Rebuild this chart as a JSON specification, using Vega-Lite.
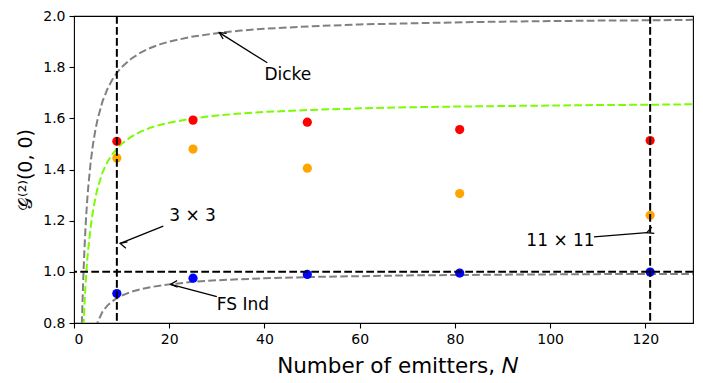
{
  "$schema": "https://vega.github.io/schema/vega-lite/v6.json",
  "width": 619,
  "height": 307,
  "autosize": {"type": "none"},
  "padding": {"left": 74, "top": 16, "right": 10, "bottom": 60},
  "background": "white",
  "config": {
    "font": "DejaVu Sans",
    "view": {"stroke": "black", "strokeWidth": 1.1},
    "axis": {
      "grid": false, "domain": false, "tickColor": "black", "tickSize": 5, "tickWidth": 1.1,
      "labelColor": "black", "labelFontSize": 14, "labelPadding": 4, "titleColor": "black",
      "titleFontWeight": "normal", "titleFontSize": 20
    }
  },
  "datasets": {
    "curves": [
      {"N": 1.5, "model": "Dicke", "g2": 0.667},
      {"N": 1.6, "model": "Dicke", "g2": 0.75},
      {"N": 1.7, "model": "Dicke", "g2": 0.824},
      {"N": 1.8, "model": "Dicke", "g2": 0.889},
      {"N": 1.9, "model": "Dicke", "g2": 0.947},
      {"N": 2, "model": "Dicke", "g2": 1.0},
      {"N": 2.2, "model": "Dicke", "g2": 1.091},
      {"N": 2.4, "model": "Dicke", "g2": 1.167},
      {"N": 2.6, "model": "Dicke", "g2": 1.231},
      {"N": 2.8, "model": "Dicke", "g2": 1.286},
      {"N": 3, "model": "Dicke", "g2": 1.333},
      {"N": 3.5, "model": "Dicke", "g2": 1.429},
      {"N": 4, "model": "Dicke", "g2": 1.5},
      {"N": 4.5, "model": "Dicke", "g2": 1.556},
      {"N": 5, "model": "Dicke", "g2": 1.6},
      {"N": 6, "model": "Dicke", "g2": 1.667},
      {"N": 7, "model": "Dicke", "g2": 1.714},
      {"N": 8, "model": "Dicke", "g2": 1.75},
      {"N": 9, "model": "Dicke", "g2": 1.778},
      {"N": 10, "model": "Dicke", "g2": 1.8},
      {"N": 12, "model": "Dicke", "g2": 1.833},
      {"N": 14, "model": "Dicke", "g2": 1.857},
      {"N": 16, "model": "Dicke", "g2": 1.875},
      {"N": 18, "model": "Dicke", "g2": 1.889},
      {"N": 20, "model": "Dicke", "g2": 1.9},
      {"N": 25, "model": "Dicke", "g2": 1.92},
      {"N": 30, "model": "Dicke", "g2": 1.933},
      {"N": 35, "model": "Dicke", "g2": 1.943},
      {"N": 40, "model": "Dicke", "g2": 1.95},
      {"N": 50, "model": "Dicke", "g2": 1.96},
      {"N": 60, "model": "Dicke", "g2": 1.967},
      {"N": 70, "model": "Dicke", "g2": 1.971},
      {"N": 80, "model": "Dicke", "g2": 1.975},
      {"N": 90, "model": "Dicke", "g2": 1.978},
      {"N": 100, "model": "Dicke", "g2": 1.98},
      {"N": 110, "model": "Dicke", "g2": 1.982},
      {"N": 120, "model": "Dicke", "g2": 1.983},
      {"N": 130, "model": "Dicke", "g2": 1.985},
      {"N": 1.8, "model": "Mid", "g2": 0.70},
      {"N": 1.9, "model": "Mid", "g2": 0.74},
      {"N": 2, "model": "Mid", "g2": 0.78},
      {"N": 2.2, "model": "Mid", "g2": 0.87},
      {"N": 2.4, "model": "Mid", "g2": 0.94},
      {"N": 2.6, "model": "Mid", "g2": 1.0},
      {"N": 2.8, "model": "Mid", "g2": 1.05},
      {"N": 3, "model": "Mid", "g2": 1.09},
      {"N": 3.5, "model": "Mid", "g2": 1.175},
      {"N": 4, "model": "Mid", "g2": 1.24},
      {"N": 4.5, "model": "Mid", "g2": 1.29},
      {"N": 5, "model": "Mid", "g2": 1.33},
      {"N": 6, "model": "Mid", "g2": 1.389},
      {"N": 7, "model": "Mid", "g2": 1.429},
      {"N": 8, "model": "Mid", "g2": 1.458},
      {"N": 9, "model": "Mid", "g2": 1.481},
      {"N": 10, "model": "Mid", "g2": 1.5},
      {"N": 12, "model": "Mid", "g2": 1.528},
      {"N": 14, "model": "Mid", "g2": 1.548},
      {"N": 16, "model": "Mid", "g2": 1.563},
      {"N": 18, "model": "Mid", "g2": 1.574},
      {"N": 20, "model": "Mid", "g2": 1.583},
      {"N": 25, "model": "Mid", "g2": 1.6},
      {"N": 30, "model": "Mid", "g2": 1.611},
      {"N": 35, "model": "Mid", "g2": 1.619},
      {"N": 40, "model": "Mid", "g2": 1.625},
      {"N": 50, "model": "Mid", "g2": 1.633},
      {"N": 60, "model": "Mid", "g2": 1.639},
      {"N": 70, "model": "Mid", "g2": 1.643},
      {"N": 80, "model": "Mid", "g2": 1.646},
      {"N": 90, "model": "Mid", "g2": 1.648},
      {"N": 100, "model": "Mid", "g2": 1.65},
      {"N": 110, "model": "Mid", "g2": 1.652},
      {"N": 120, "model": "Mid", "g2": 1.653},
      {"N": 130, "model": "Mid", "g2": 1.655},
      {"N": 4.5, "model": "FS Ind", "g2": 0.778},
      {"N": 5, "model": "FS Ind", "g2": 0.805},
      {"N": 6, "model": "FS Ind", "g2": 0.845},
      {"N": 7, "model": "FS Ind", "g2": 0.868},
      {"N": 8, "model": "FS Ind", "g2": 0.884},
      {"N": 9, "model": "FS Ind", "g2": 0.897},
      {"N": 10, "model": "FS Ind", "g2": 0.907},
      {"N": 12, "model": "FS Ind", "g2": 0.922},
      {"N": 14, "model": "FS Ind", "g2": 0.932},
      {"N": 16, "model": "FS Ind", "g2": 0.94},
      {"N": 18, "model": "FS Ind", "g2": 0.946},
      {"N": 20, "model": "FS Ind", "g2": 0.951},
      {"N": 25, "model": "FS Ind", "g2": 0.961},
      {"N": 30, "model": "FS Ind", "g2": 0.967},
      {"N": 35, "model": "FS Ind", "g2": 0.971},
      {"N": 40, "model": "FS Ind", "g2": 0.975},
      {"N": 50, "model": "FS Ind", "g2": 0.98},
      {"N": 60, "model": "FS Ind", "g2": 0.983},
      {"N": 70, "model": "FS Ind", "g2": 0.986},
      {"N": 80, "model": "FS Ind", "g2": 0.9875},
      {"N": 90, "model": "FS Ind", "g2": 0.989},
      {"N": 100, "model": "FS Ind", "g2": 0.99},
      {"N": 110, "model": "FS Ind", "g2": 0.991},
      {"N": 120, "model": "FS Ind", "g2": 0.992},
      {"N": 130, "model": "FS Ind", "g2": 0.992}
    ],
    "points": [
      {"N": 9, "series": "red", "g2": 1.51},
      {"N": 25, "series": "red", "g2": 1.593},
      {"N": 49, "series": "red", "g2": 1.585},
      {"N": 81, "series": "red", "g2": 1.556},
      {"N": 121, "series": "red", "g2": 1.513},
      {"N": 9, "series": "orange", "g2": 1.445},
      {"N": 25, "series": "orange", "g2": 1.48},
      {"N": 49, "series": "orange", "g2": 1.405},
      {"N": 81, "series": "orange", "g2": 1.306},
      {"N": 121, "series": "orange", "g2": 1.221},
      {"N": 9, "series": "blue", "g2": 0.915},
      {"N": 25, "series": "blue", "g2": 0.975},
      {"N": 49, "series": "blue", "g2": 0.99},
      {"N": 81, "series": "blue", "g2": 0.995},
      {"N": 121, "series": "blue", "g2": 0.999}
    ],
    "vlines": [{"N": 9}, {"N": 121}],
    "hlines": [{"g2": 1.0}],
    "notes": [
      {"label": "Dicke", "tx": 40, "ty": 1.75, "sx": 40.6, "sy": 1.817, "hx": 30.5, "hy": 1.935},
      {"label": "3 × 3", "tx": 20, "ty": 1.2, "sx": 18.75, "sy": 1.179, "hx": 9.7, "hy": 1.111},
      {"label": "FS Ind", "tx": 30, "ty": 0.85, "sx": 30, "sy": 0.903, "hx": 20.3, "hy": 0.951},
      {"label": "11 × 11", "tx": 95, "ty": 1.1, "sx": 109.2, "sy": 1.137, "hx": 120.3, "hy": 1.153}
    ]
  },
  "layer": [
    {
      "data": {"name": "curves"},
      "mark": {"type": "line", "clip": true, "strokeWidth": 2, "strokeDash": [7.7, 3.3]},
      "encoding": {
        "x": {"field": "N", "type": "quantitative", "scale": {"domain": [0, 130], "nice": false, "zero": false},
              "axis": {"values": [0, 20, 40, 60, 80, 100, 120], "title": "Number of emitters, 𝑁", "titlePadding": 9, "titleFontSize": 21.5, "titleX": 323, "titleAlign": "center"}},
        "y": {"field": "g2", "type": "quantitative", "scale": {"domain": [0.8, 2.0], "nice": false, "zero": false},
              "axis": {"values": [0.8, 1.0, 1.2, 1.4, 1.6, 1.8, 2.0], "format": ".1f", "title": "𝒢⁽²⁾(0, 0)", "titlePadding": 7, "titleFontSize": 19}},
        "color": {"field": "model", "type": "nominal", "scale": {"domain": ["Dicke", "Mid", "FS Ind"], "range": ["#808080", "#7CFC00", "#808080"]}, "legend": null},
        "detail": {"field": "model"},
        "order": {"field": "N", "type": "quantitative"}
      }
    },
    {
      "data": {"name": "points"},
      "mark": {"type": "point", "filled": true, "opacity": 1, "size": 85, "clip": true},
      "encoding": {
        "x": {"field": "N", "type": "quantitative"},
        "y": {"field": "g2", "type": "quantitative"},
        "fill": {"field": "series", "type": "nominal", "scale": {"domain": ["red", "orange", "blue"], "range": ["#FF0000", "#FFA500", "#0000FF"]}, "legend": null}
      }
    },
    {
      "data": {"name": "vlines"},
      "mark": {"type": "rule", "color": "black", "strokeWidth": 2, "strokeDash": [7.7, 3.3]},
      "encoding": {"x": {"field": "N", "type": "quantitative"}}
    },
    {
      "data": {"name": "hlines"},
      "mark": {"type": "rule", "color": "black", "strokeWidth": 2, "strokeDash": [7.7, 3.3]},
      "encoding": {"y": {"field": "g2", "type": "quantitative"}}
    },
    {
      "data": {"name": "notes"},
      "mark": {"type": "rule", "color": "black", "strokeWidth": 1.3},
      "encoding": {
        "x": {"field": "sx", "type": "quantitative"},
        "y": {"field": "sy", "type": "quantitative"},
        "x2": {"field": "hx"},
        "y2": {"field": "hy"}
      }
    },
    {
      "data": {"name": "notes"},
      "mark": {"type": "point", "shape": "M-1,-0.5L0,0L-1,0.5", "filled": false, "stroke": "black", "strokeWidth": 1.3, "size": 180, "opacity": 1},
      "encoding": {
        "x": {"field": "hx", "type": "quantitative"},
        "y": {"field": "hy", "type": "quantitative"},
        "angle": {"field": "label", "type": "nominal", "scale": {"domain": ["Dicke", "3 × 3", "FS Ind", "11 × 11"], "range": [212, 158, 196, 356]}, "legend": null}
      }
    },
    {
      "data": {"name": "notes"},
      "mark": {"type": "text", "align": "left", "baseline": "alphabetic", "fontSize": 17, "color": "black"},
      "encoding": {
        "x": {"field": "tx", "type": "quantitative"},
        "y": {"field": "ty", "type": "quantitative"},
        "text": {"field": "label"}
      }
    }
  ]
}
